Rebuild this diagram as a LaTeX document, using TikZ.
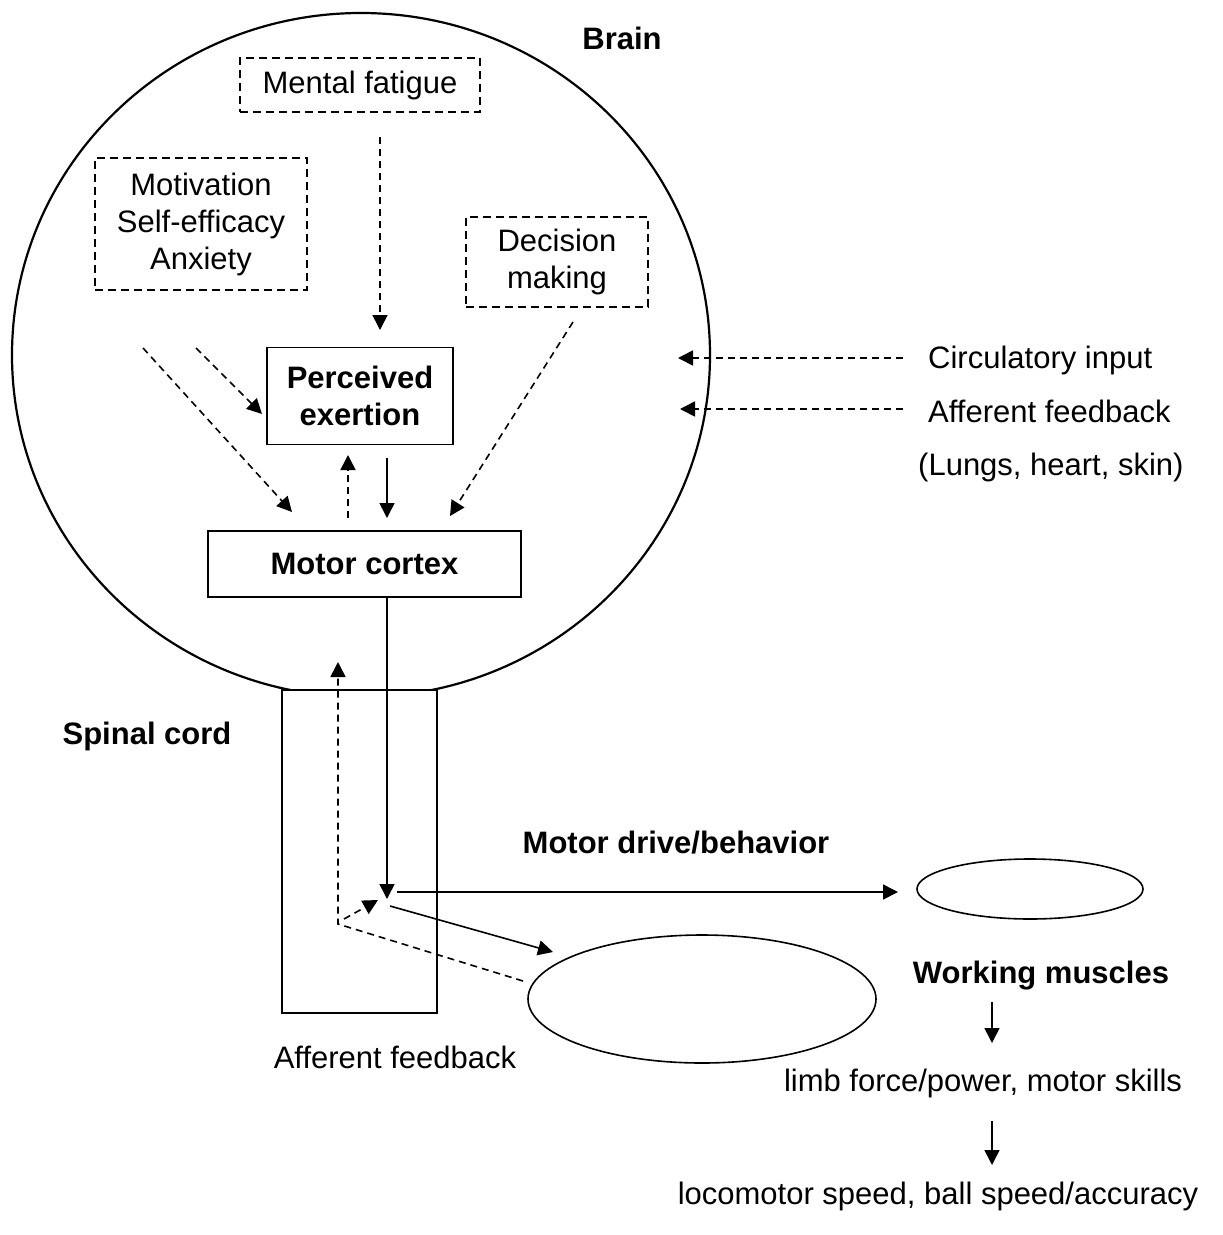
\documentclass[tikz,border=0pt]{standalone}
\usepackage{fontspec}
\setmainfont{Liberation Sans}
\usetikzlibrary{arrows.meta,shapes.geometric}
\begin{document}
\begin{tikzpicture}[x=1pt,y=-1pt,
  every node/.style={font=\fontsize{31}{37}\selectfont, inner sep=0pt, align=center},
  dbox/.style={draw, line width=1.6pt, dash pattern=on 8pt off 5pt},
  sbox/.style={draw, line width=1.8pt},
  tip/.style={-{Triangle[length=15pt,width=15pt]}},
  sarrow/.style={tip, line width=1.6pt},
  darrow/.style={tip, line width=1.6pt, dash pattern=on 7pt off 5pt},
  lbl/.style={font=\fontsize{31}{37}\selectfont},
  blbl/.style={font=\fontsize{31}{37}\selectfont\bfseries}]
\useasboundingbox (0,0) rectangle (1223,1235);

% brain outline
\begin{scope}
  \clip (0,0) rectangle (1223,689.5);
  \draw[line width=2.2pt] (361,355) ellipse [x radius=349pt, y radius=342pt];
\end{scope}
% spinal cord
\node[sbox, minimum width=155pt, minimum height=323pt] (spine) at (359.5,851.5) {};

% labels
\node[blbl] (brain) at (622,38) {Brain};
\node[blbl] (spinal) at (147,736) {Spinal cord};
\node[blbl] (drive) at (676,843) {Motor drive/behavior};
\node[blbl] (working) at (1041,976) {Working muscles};
\node[lbl] (limb) at (983,1083) {limb force/power, motor skills};
\node[lbl] (loco) at (938,1196) {locomotor speed, ball speed/accuracy};
\node[lbl] (aff2) at (395,1057) {Afferent feedback};
\node[lbl, anchor=west] (circ) at (928,360) {Circulatory input};
\node[lbl, anchor=west] (aff1) at (928,411) {Afferent feedback};
\node[lbl, anchor=west] (lungs) at (918,467) {(Lungs, heart, skin)};

% boxes
\node[dbox, minimum width=240pt, minimum height=54pt] (mf) at (360,85) {Mental fatigue};
\node[dbox, minimum width=212pt, minimum height=132pt] (mot) at (201,224) {Motivation\\Self-efficacy\\Anxiety};
\node[dbox, minimum width=182pt, minimum height=90pt] (dec) at (557,262) {Decision\\making};
\node[sbox, minimum width=186pt, minimum height=97pt, font=\fontsize{31}{37}\selectfont\bfseries] (pe) at (360,396) {Perceived\\exertion};
\node[sbox, minimum width=313pt, minimum height=66pt, font=\fontsize{31}{37}\selectfont\bfseries] (mc) at (364.5,564) {Motor cortex};

% muscles
\node[draw, line width=1.6pt, ellipse, minimum width=226pt, minimum height=60pt] (m1) at (1030,889) {};
\node[draw, line width=1.6pt, ellipse, minimum width=348pt, minimum height=128pt] (m2) at (702,999) {};

% coordinates
\coordinate (mfA) at (380,137); \coordinate (mfB) at (380,330);
\coordinate (moA) at (143,348); \coordinate (moB) at (292,512);
\coordinate (moC) at (196,348); \coordinate (moD) at (262,414);
\coordinate (deA) at (573,322); \coordinate (deB) at (450,516);
\coordinate (upA) at (348,518); \coordinate (upB) at (348,455);
\coordinate (dnA) at (387,458); \coordinate (dnB) at (387,518);
\coordinate (jn) at (387,899);
\coordinate (hA) at (397,892); \coordinate (hB) at (898,892);
\coordinate (gA) at (390,906); \coordinate (gB) at (553,952);
\coordinate (fbA) at (523,981); \coordinate (fbC) at (338,924); \coordinate (fbT) at (338,662);
\coordinate (sA) at (344,919); \coordinate (sB) at (378,900);
\coordinate (ciA) at (903,358); \coordinate (ciB) at (678,358);
\coordinate (afA) at (903,409); \coordinate (afB) at (680,409);
\coordinate (wA) at (992,1002); \coordinate (wB) at (992,1043);
\coordinate (lA) at (992,1121); \coordinate (lB) at (992,1165);

% connectors
\draw[darrow] (mfA) -- (mfB);
\draw[darrow] (moA) -- (moB);
\draw[darrow] (moC) -- (moD);
\draw[darrow] (deA) -- (deB);
\draw[darrow] (upA) -- (upB);
\draw[sarrow] (dnA) -- (dnB);
\draw[sarrow] (mc.south -| jn) -- (jn);
\draw[sarrow] (hA) -- (hB);
\draw[sarrow] (gA) -- (gB);
\draw[darrow] (fbA) -- (fbC) -- (fbT);
\draw[darrow] (sA) -- (sB);
\draw[darrow] (ciA) -- (ciB);
\draw[darrow] (afA) -- (afB);
\draw[sarrow] (wA) -- (wB);
\draw[sarrow] (lA) -- (lB);
\end{tikzpicture}
\end{document}
